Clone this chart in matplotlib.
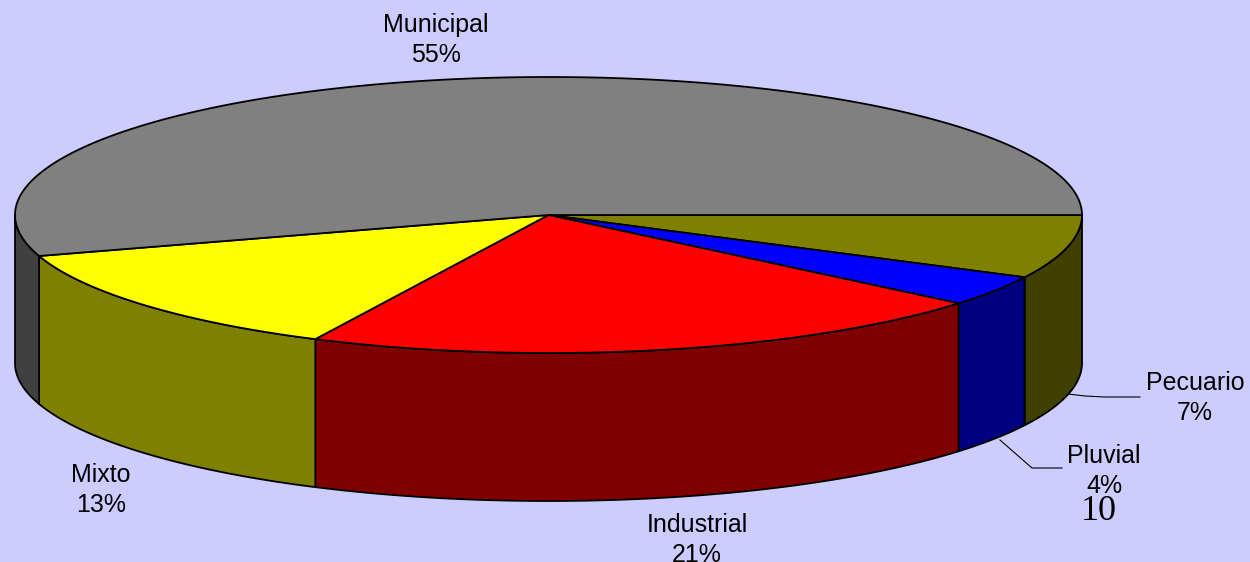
import numpy as np
import matplotlib
matplotlib.use("Agg")
import matplotlib.pyplot as plt
from matplotlib.patches import Polygon

categories = ["Pecuario", "Pluvial", "Industrial", "Mixto", "Municipal"]
shares = [7.45, 3.6, 21.15, 13.0, 54.8]
page_number = "10"
top_colors = ["#808000", "#0000FF", "#FF0000", "#FFFF00", "#808080"]
wall_colors = ["#404000", "#000080", "#800000", "#808000", "#404040"]
label_xy = [(1195, 398), (1104, 471), (697, 540), (101, 490), (436, 40)]

W, H = 1250, 562
CX, CY, RX, RY, DEPTH = 548.5, 215, 533.5, 138, 148

plt.rcParams["font.family"] = ["Liberation Sans", "DejaVu Sans"]
fig = plt.figure(figsize=(W / 100, H / 100), dpi=100, facecolor="#CCCCFF")
ax = fig.add_axes([0, 0, 1, 1])
ax.set_xlim(0, W)
ax.set_ylim(H, 0)
ax.axis("off")


def rim(a0, a1, dy=0):
    t = np.radians(np.linspace(a0, a1, max(2, int(abs(a1 - a0) * 3))))
    return np.column_stack([CX + RX * np.cos(t), CY + dy + RY * np.sin(t)])


edges = np.cumsum([0] + shares) * 3.6
style = dict(edgecolor="black", linewidth=1.3, joinstyle="round")

# walls (front half only: 0..180 degrees clockwise on screen)
for i in range(len(shares)):
    a0, a1 = edges[i], min(edges[i + 1], 180)
    if a0 >= 180:
        continue
    wall = np.vstack([rim(a0, a1), rim(a1, a0, DEPTH)])
    ax.add_patch(Polygon(wall, closed=True, facecolor=wall_colors[i], **style))

# tops
for i in range(len(shares)):
    top = np.vstack([[CX, CY], rim(edges[i], edges[i + 1])])
    ax.add_patch(Polygon(top, closed=True, facecolor=top_colors[i], **style))

# leader lines
ax.plot([1068, 1085, 1105, 1140], [394, 396, 397, 397], color="black", lw=0.8)
ax.plot([1000, 1032, 1062], [440, 468, 468], color="black", lw=0.8)

for name, share, (x, y) in zip(categories, shares, label_xy):
    ax.text(x, y, f"{name}\n{share:.0f}%", ha="center", va="center", fontsize=18,
            linespacing=1.36, color="black")

ax.text(1099, 512, page_number, ha="center", va="center", fontsize=26,
        family="Liberation Serif", color="black")

fig.savefig("out.png", dpi=100, facecolor=fig.get_facecolor())
